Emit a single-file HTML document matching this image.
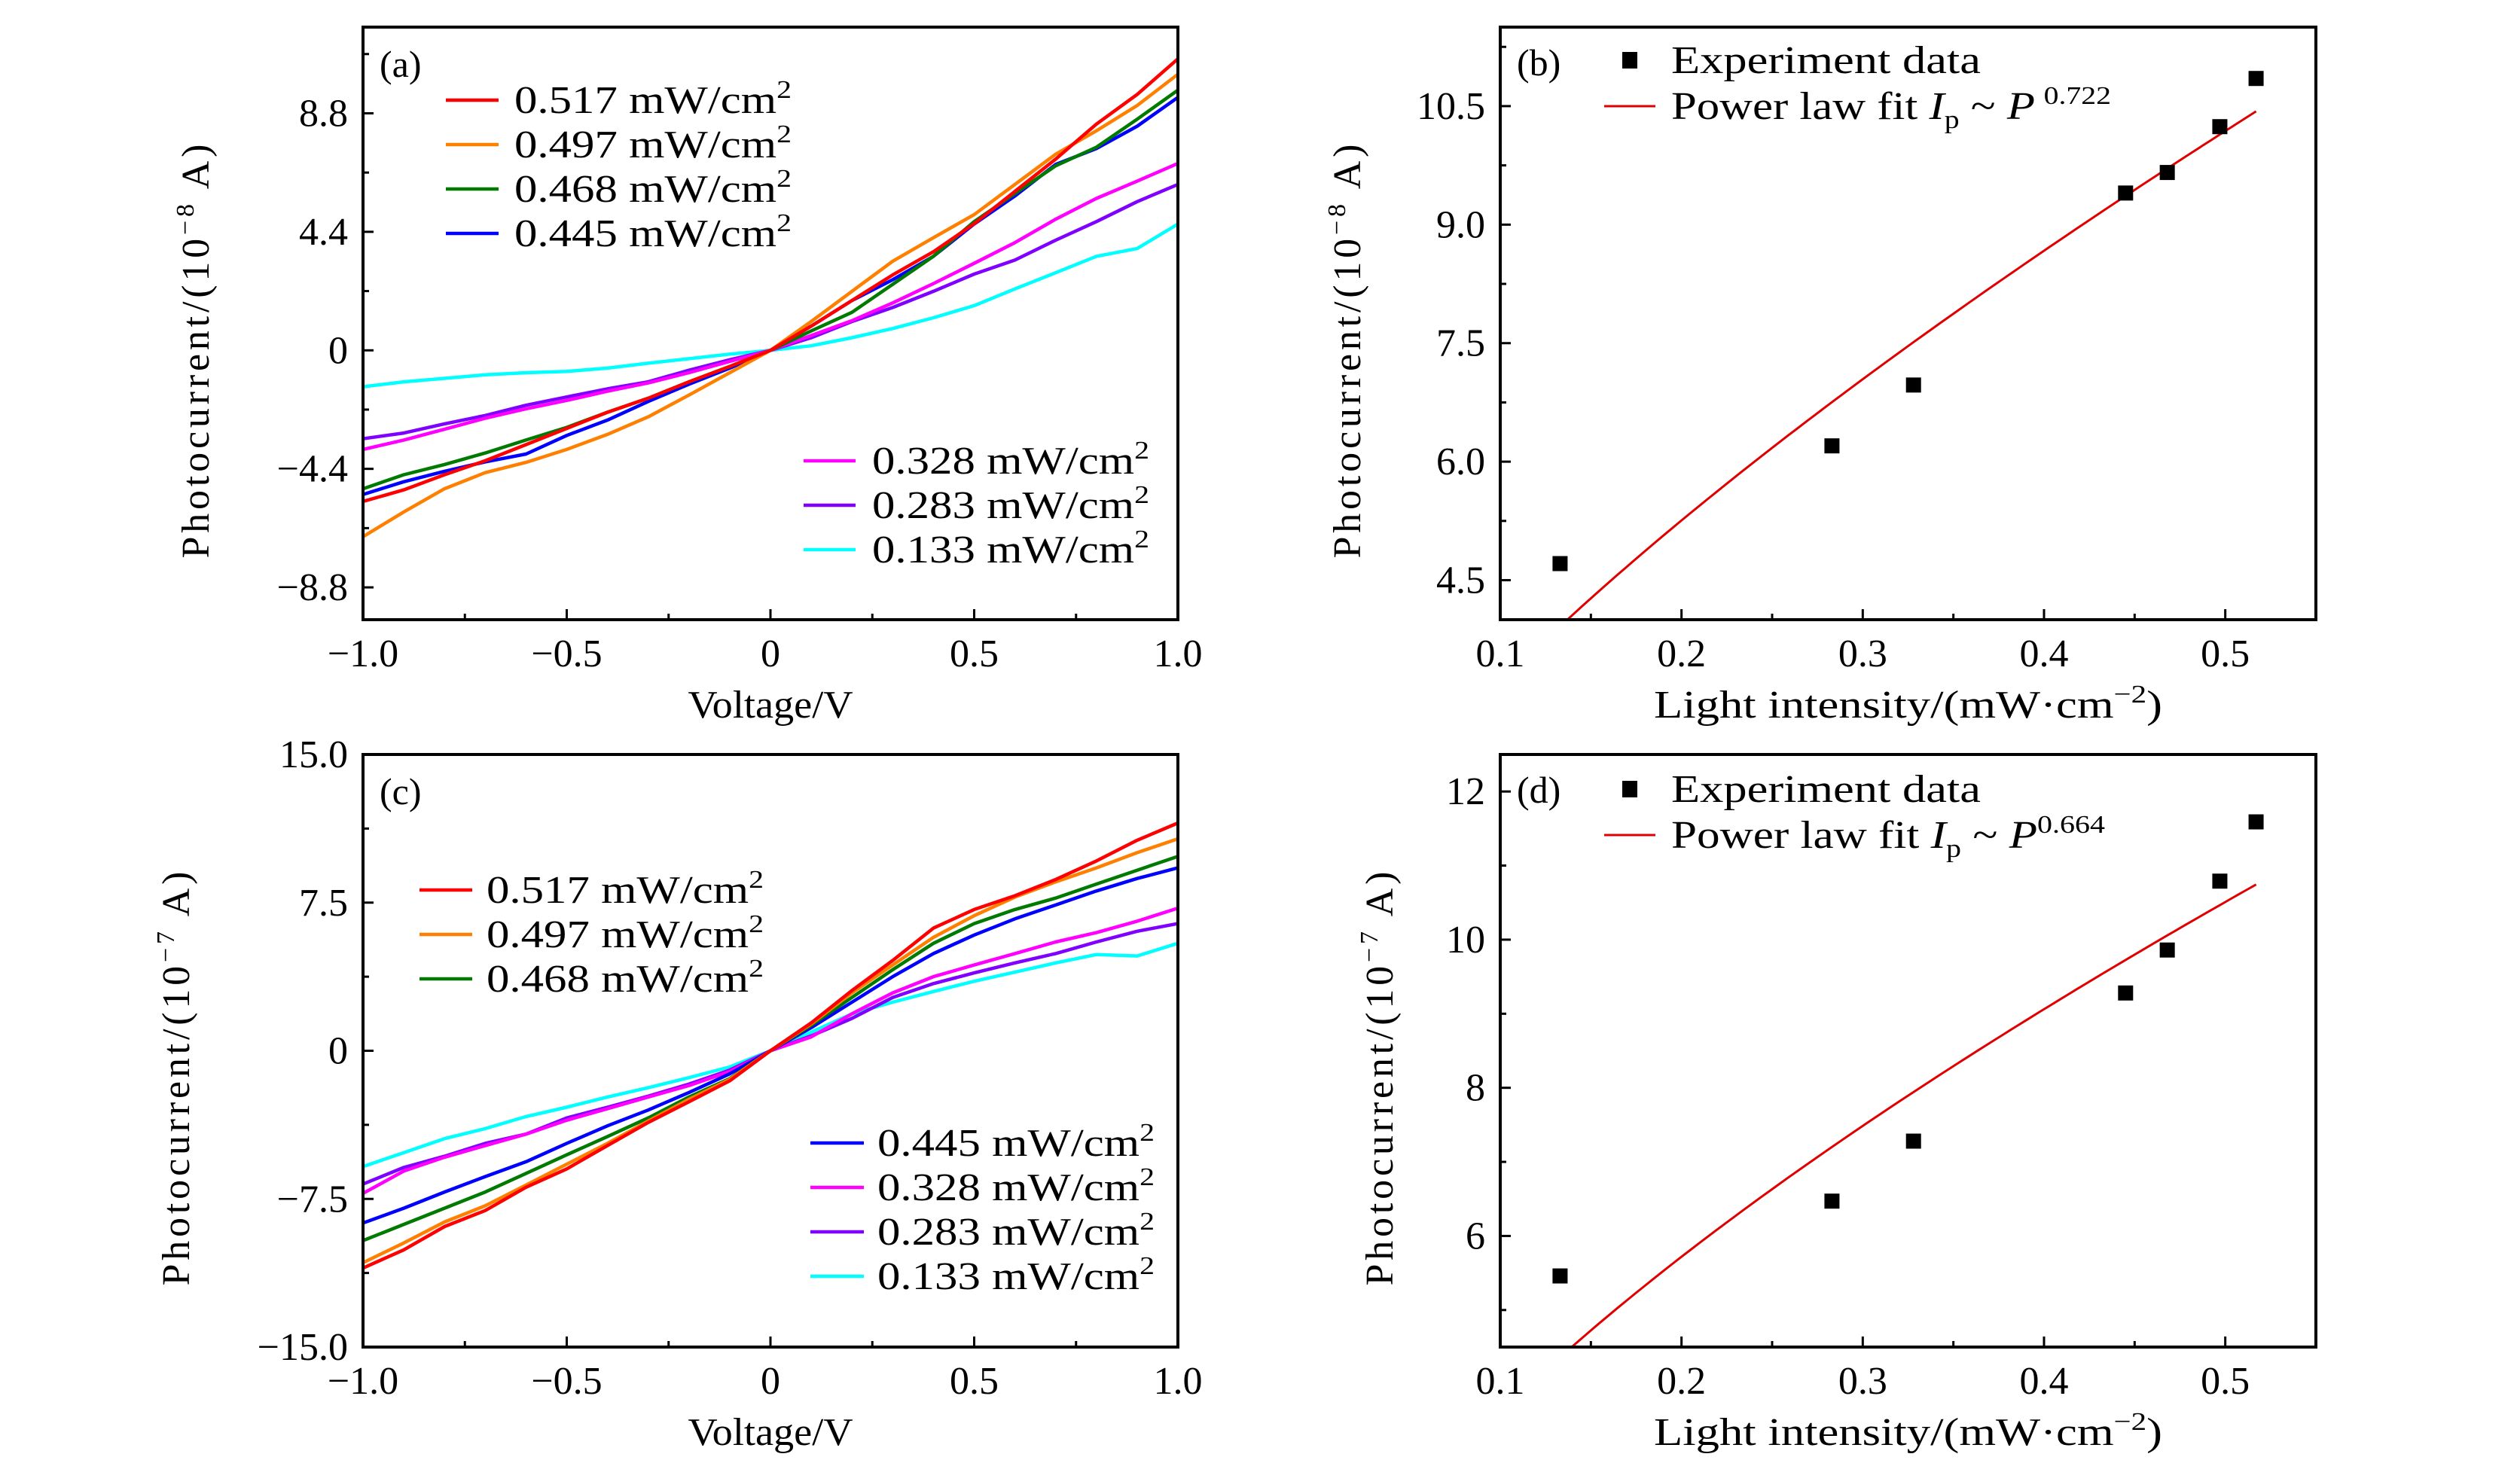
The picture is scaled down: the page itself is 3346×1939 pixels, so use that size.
<!DOCTYPE html>
<html><head><meta charset="utf-8"><style>
html,body{margin:0;padding:0;background:#fff}
svg{display:block;font-family:"Liberation Serif",serif}
</style></head><body>
<svg id="fig" width="3346" height="1939" viewBox="0 0 3346 1939" xmlns="http://www.w3.org/2000/svg"></svg>
<script>
const voltages=[-1,-0.9,-0.8,-0.7,-0.6,-0.5,-0.4,-0.3,-0.2,-0.1,0,0.1,0.2,0.3,0.4,0.5,0.6,0.7,0.8,0.9,1];
const seriesLabels=["0.517","0.497","0.468","0.445","0.328","0.283","0.133"];
const seriesColors=["#ff0000","#ff8000","#007a00","#0000ff","#ff00ff","#7f00ff","#00ffff"];
const aRed=[-5.61,-5.18,-4.62,-4.1,-3.5,-2.9,-2.3,-1.78,-1.17,-0.6,0,0.9,1.85,2.8,3.66,4.7,5.9,7.1,8.4,9.5,10.82];
const aOrange=[-6.92,-6.0,-5.14,-4.54,-4.16,-3.68,-3.12,-2.47,-1.66,-0.83,0,1.07,2.19,3.31,4.18,5.04,6.16,7.28,8.15,9.09,10.25];
const aGreen=[-5.14,-4.62,-4.24,-3.81,-3.33,-2.86,-2.3,-1.78,-1.17,-0.6,0,0.72,1.41,2.45,3.49,4.78,5.82,6.85,7.54,8.58,9.66];
const aBlue=[-5.35,-4.88,-4.49,-4.14,-3.85,-3.16,-2.59,-1.9,-1.26,-0.66,0,0.9,1.85,2.62,3.49,4.69,5.73,6.9,7.49,8.32,9.39];
const aMagenta=[-3.68,-3.33,-2.93,-2.52,-2.17,-1.86,-1.52,-1.21,-0.83,-0.41,0,0.55,1.1,1.76,2.48,3.23,4.0,4.87,5.64,6.28,6.94];
const aPurple=[-3.28,-3.07,-2.73,-2.42,-2.04,-1.73,-1.43,-1.17,-0.74,-0.35,0,0.47,1.07,1.59,2.19,2.83,3.35,4.09,4.78,5.52,6.16];
const aCyan=[-1.35,-1.17,-1.04,-0.91,-0.83,-0.78,-0.66,-0.48,-0.31,-0.14,0,0.17,0.47,0.81,1.21,1.66,2.28,2.88,3.49,3.78,4.69];
const cRed=[-11.0,-10.08,-8.9,-8.09,-6.91,-5.98,-4.8,-3.63,-2.58,-1.52,0,1.41,3.05,4.57,6.21,7.15,7.85,8.67,9.61,10.66,11.53];
const cOrange=[-10.73,-9.73,-8.67,-7.85,-6.8,-5.74,-4.69,-3.56,-2.46,-1.45,0,1.36,2.93,4.34,5.74,6.84,7.78,8.55,9.26,10.03,10.73];
const cGreen=[-9.61,-8.79,-7.97,-7.15,-6.21,-5.27,-4.34,-3.4,-2.34,-1.41,0,1.29,2.7,4.1,5.44,6.44,7.15,7.73,8.44,9.14,9.84];
const cBlue=[-8.72,-7.97,-7.15,-6.37,-5.62,-4.69,-3.8,-3.0,-2.11,-1.17,0,1.17,2.46,3.75,4.92,5.86,6.68,7.38,8.09,8.72,9.26];
const cMagenta=[-7.22,-6.09,-5.39,-4.8,-4.22,-3.52,-2.93,-2.34,-1.76,-1.05,0,0.7,1.87,2.93,3.75,4.34,4.92,5.51,5.98,6.56,7.22];
const cPurple=[-6.75,-5.91,-5.34,-4.69,-4.22,-3.4,-2.86,-2.3,-1.69,-0.98,0,0.75,1.64,2.7,3.4,3.94,4.45,4.92,5.51,6.05,6.44];
const cCyan=[-5.86,-5.16,-4.45,-3.94,-3.33,-2.86,-2.34,-1.87,-1.36,-0.82,0,0.94,1.87,2.46,3.0,3.52,3.98,4.45,4.87,4.8,5.44];
const intensities=[0.133,0.283,0.328,0.445,0.468,0.497,0.517];
const bCurrent=[4.71,6.2,6.97,9.4,9.66,10.24,10.85];
const dCurrent=[5.46,6.47,7.28,9.28,9.86,10.79,11.59];
const bFitA=16.8, bFitExp=0.722;
const dFitA=16.65, dFitExp=0.664;
const ivXTicks=[-1,-0.5,0,0.5,1];
const ivXTickLabels=["\u22121.0","\u22120.5","0","0.5","1.0"];
const aYTicks=[-8.8,-4.4,0,4.4,8.8];
const aYTickLabels=["\u22128.8","\u22124.4","0","4.4","8.8"];
const cYTicks=[-15,-7.5,0,7.5,15];
const cYTickLabels=["\u221215.0","\u22127.5","0","7.5","15.0"];
const pXTicks=[0.1,0.2,0.3,0.4,0.5];
const pXTickLabels=["0.1","0.2","0.3","0.4","0.5"];
const bYTicks=[4.5,6,7.5,9,10.5];
const bYTickLabels=["4.5","6.0","7.5","9.0","10.5"];
const dYTicks=[6,8,10,12];
const dYTickLabels=["6","8","10","12"];

const NS="http://www.w3.org/2000/svg";
const svg=document.getElementById('fig');
function mk(tag,attrs,parent){const e=document.createElementNS(NS,tag);for(const k in attrs)e.setAttribute(k,attrs[k]);(parent||svg).appendChild(e);return e;}

function panel(o){
  const g=mk('g',{});
  
  
  const X=v=>o.x0+(v-o.xmin)/(o.xmax-o.xmin)*(o.x1-o.x0);
  const Y=v=>o.y1-(v-o.ymin)/(o.ymax-o.ymin)*(o.y1-o.y0);
  const cid='clip-'+o.name;
  const cp=mk('clipPath',{id:cid},g);mk('rect',{x:o.x0,y:o.y0,width:o.x1-o.x0,height:o.y1-o.y0},cp);
  const pg=mk('g',{'clip-path':'url(#'+cid+')'},g);
  o.xTicks.forEach((t,i)=>{
    const tk=mk('line',{x1:X(t),x2:X(t),y1:o.y1,y2:o.y1-14,stroke:'#000','stroke-width':3},g);
    
    
    const lb=mk('text',{x:X(t),y:o.y1+62,'font-size':52,'text-anchor':'middle'},g);
    lb.textContent=o.xLabels[i];
    
    
  });
  o.xMinor.forEach(t=>{mk('line',{x1:X(t),x2:X(t),y1:o.y1,y2:o.y1-8,stroke:'#000','stroke-width':3},g);});
  o.yTicks.forEach((t,i)=>{
    const tk=mk('line',{x1:o.x0,x2:o.x0+14,y1:Y(t),y2:Y(t),stroke:'#000','stroke-width':3},g);
    
    
    const lb=mk('text',{x:o.x0-20,y:Y(t)+17,'font-size':52,'text-anchor':'end'},g);
    lb.textContent=o.yLabels[i];
    
    
  });
  o.yMinor.forEach(t=>{mk('line',{x1:o.x0,x2:o.x0+8,y1:Y(t),y2:Y(t),stroke:'#000','stroke-width':3},g);});
  (o.series||[]).forEach((s,k)=>{
    const d=s.map((v,i)=>(i?'L':'M')+X(o.xs[i]).toFixed(1)+' '+Y(v).toFixed(1)).join(' ');
    const p=mk('path',{d:d,fill:'none',stroke:seriesColors[o.colorIdx[k]],'stroke-width':4.5,'stroke-linejoin':'round'},pg);
    
    
  });
  if(o.fit){
    let d='';const n=80;
    for(let i=0;i<=n;i++){const P=0.12+(0.517-0.12)*i/n;d+=(i?'L':'M')+X(P).toFixed(1)+' '+Y(o.fit.a*Math.pow(P,o.fit.e)).toFixed(1)+' ';}
    const p=mk('path',{d:d,fill:'none',stroke:'#e00000','stroke-width':3},pg);
    
    
    o.points.forEach((v,i)=>{
      const r=mk('rect',{x:X(intensities[i])-10,y:Y(v)-10,width:20,height:20,fill:'#000'},pg);
      
      
    });
  }
  const fr=mk('rect',{x:o.x0,y:o.y0,width:o.x1-o.x0,height:o.y1-o.y0,fill:'none',stroke:'#000','stroke-width':4},g);
  
  
  const tg=mk('text',{x:o.tag.x,y:o.tag.y,'font-size':50},g);tg.textContent=o.tag.t;
  
  
  const xt=mk('text',{x:(o.x0+o.x1)/2,y:o.y1+130,'font-size':52,'text-anchor':'middle',textLength:o.xTitleLen,lengthAdjust:'spacingAndGlyphs'},g);
  xt.innerHTML=o.xTitle;
  
  
  const yt=mk('text',{x:0,y:0,'font-size':52,'text-anchor':'middle',transform:'translate('+o.yTitleX+','+((o.y0+o.y1)/2+37)+') rotate(-90)',textLength:550,lengthAdjust:'spacing'},g);
  yt.innerHTML='Photocurrent/(10<tspan font-size="34" dy="-20">\u2212'+o.exp+'</tspan><tspan dy="20"> A)</tspan>';
  
  
  return {g,X,Y};
}
function legendEntry(g,x1,x2,tx,y,color,label){
  const le=mk('g',{},g);
  
  
  mk('line',{x1:x1,x2:x2,y1:y,y2:y,stroke:color,'stroke-width':4.5},le);
  const t=mk('text',{x:tx,y:y+17,'font-size':52,textLength:368,lengthAdjust:'spacingAndGlyphs'},le);
  t.innerHTML=label+' mW/cm<tspan font-size="34" dy="-20">2</tspan>';
}
const ivMinorX=[-0.75,-0.25,0.25,0.75];
const A=panel({name:'panel-a',x0:482,x1:1564,y0:36,y1:823,xmin:-1,xmax:1,ymin:-10,ymax:12,
  xTicks:ivXTicks,xLabels:ivXTickLabels,xMinor:ivMinorX,yTicks:aYTicks,yLabels:aYTickLabels,yMinor:[-6.6,-2.2,2.2,6.6,11],
  xs:voltages,series:[aCyan,aPurple,aMagenta,aBlue,aGreen,aOrange,aRed],colorIdx:[6,5,4,3,2,1,0],
  tag:{x:504,y:102,t:'(a)'},xTitle:'Voltage/V',xTitleLen:219,yTitleX:277,exp:'8'});
[0,1,2,3].forEach((k,i)=>legendEntry(A.g,592,662,683,133+59*i,seriesColors[k],seriesLabels[k]));
[4,5,6].forEach((k,i)=>legendEntry(A.g,1067,1136,1158,612+59*i,seriesColors[k],seriesLabels[k]));
const C=panel({name:'panel-c',x0:482,x1:1564,y0:1002,y1:1789,xmin:-1,xmax:1,ymin:-15,ymax:15,
  xTicks:ivXTicks,xLabels:ivXTickLabels,xMinor:ivMinorX,yTicks:cYTicks,yLabels:cYTickLabels,yMinor:[-11.25,-3.75,3.75,11.25],
  xs:voltages,series:[cCyan,cPurple,cMagenta,cBlue,cGreen,cOrange,cRed],colorIdx:[6,5,4,3,2,1,0],
  tag:{x:504,y:1068,t:'(c)'},xTitle:'Voltage/V',xTitleLen:219,yTitleX:251,exp:'7'});
[0,1,2].forEach((k,i)=>legendEntry(C.g,557,627,646,1182+59*i,seriesColors[k],seriesLabels[k]));
[3,4,5,6].forEach((k,i)=>legendEntry(C.g,1076,1147,1165,1518+59*i,seriesColors[k],seriesLabels[k]));
function powerLegend(g,y0,expo,xe,len2){
  const l1=mk('g',{},g);
  
  
  mk('rect',{x:2154,y:y0-11,width:20,height:22,fill:'#000'},l1);
  const t1=mk('text',{x:2219,y:y0+17,'font-size':52,textLength:411,lengthAdjust:'spacingAndGlyphs'},l1);t1.textContent='Experiment data';
  const l2=mk('g',{},g);
  
  
  mk('line',{x1:2130,x2:2198,y1:y0+61,y2:y0+61,stroke:'#e00000','stroke-width':3},l2);
  const t2=mk('text',{x:2219,y:y0+78,'font-size':52,textLength:len2,lengthAdjust:'spacingAndGlyphs'},l2);
  t2.innerHTML='Power law fit <tspan font-style="italic">I</tspan><tspan font-size="34" dy="12">p</tspan><tspan dy="-12"> ~ </tspan><tspan font-style="italic">P</tspan><tspan font-size="34" dy="-20" dx="'+xe+'">'+expo+'</tspan>';
}
const lightTitle='Light intensity/(mW\u00b7cm<tspan font-size="34" dy="-20">\u22122</tspan><tspan dy="20">)</tspan>';
const B=panel({name:'panel-b',x0:1992,x1:3075,y0:36,y1:823,xmin:0.1,xmax:0.55,ymin:4,ymax:11.5,
  xTicks:pXTicks,xLabels:pXTickLabels,xMinor:[0.15,0.25,0.35,0.45],yTicks:bYTicks,yLabels:bYTickLabels,yMinor:[5.25,6.75,8.25,9.75,11.25],
  fit:{a:bFitA,e:bFitExp},points:bCurrent,
  tag:{x:2014,y:100,t:'(b)'},xTitle:lightTitle,xTitleLen:675,yTitleX:1806,exp:'8'});
powerLegend(B.g,80,'0.722',10,584);
const D=panel({name:'panel-d',x0:1992,x1:3075,y0:1002,y1:1789,xmin:0.1,xmax:0.55,ymin:4.5,ymax:12.5,
  xTicks:pXTicks,xLabels:pXTickLabels,xMinor:[0.15,0.25,0.35,0.45],yTicks:dYTicks,yLabels:dYTickLabels,yMinor:[5,7,9,11],
  fit:{a:dFitA,e:dFitExp},points:dCurrent,
  tag:{x:2014,y:1066,t:'(d)'},xTitle:lightTitle,xTitleLen:675,yTitleX:1849,exp:'7'});
powerLegend(D.g,1048,'0.664',0,576);
</script>
</body></html>
